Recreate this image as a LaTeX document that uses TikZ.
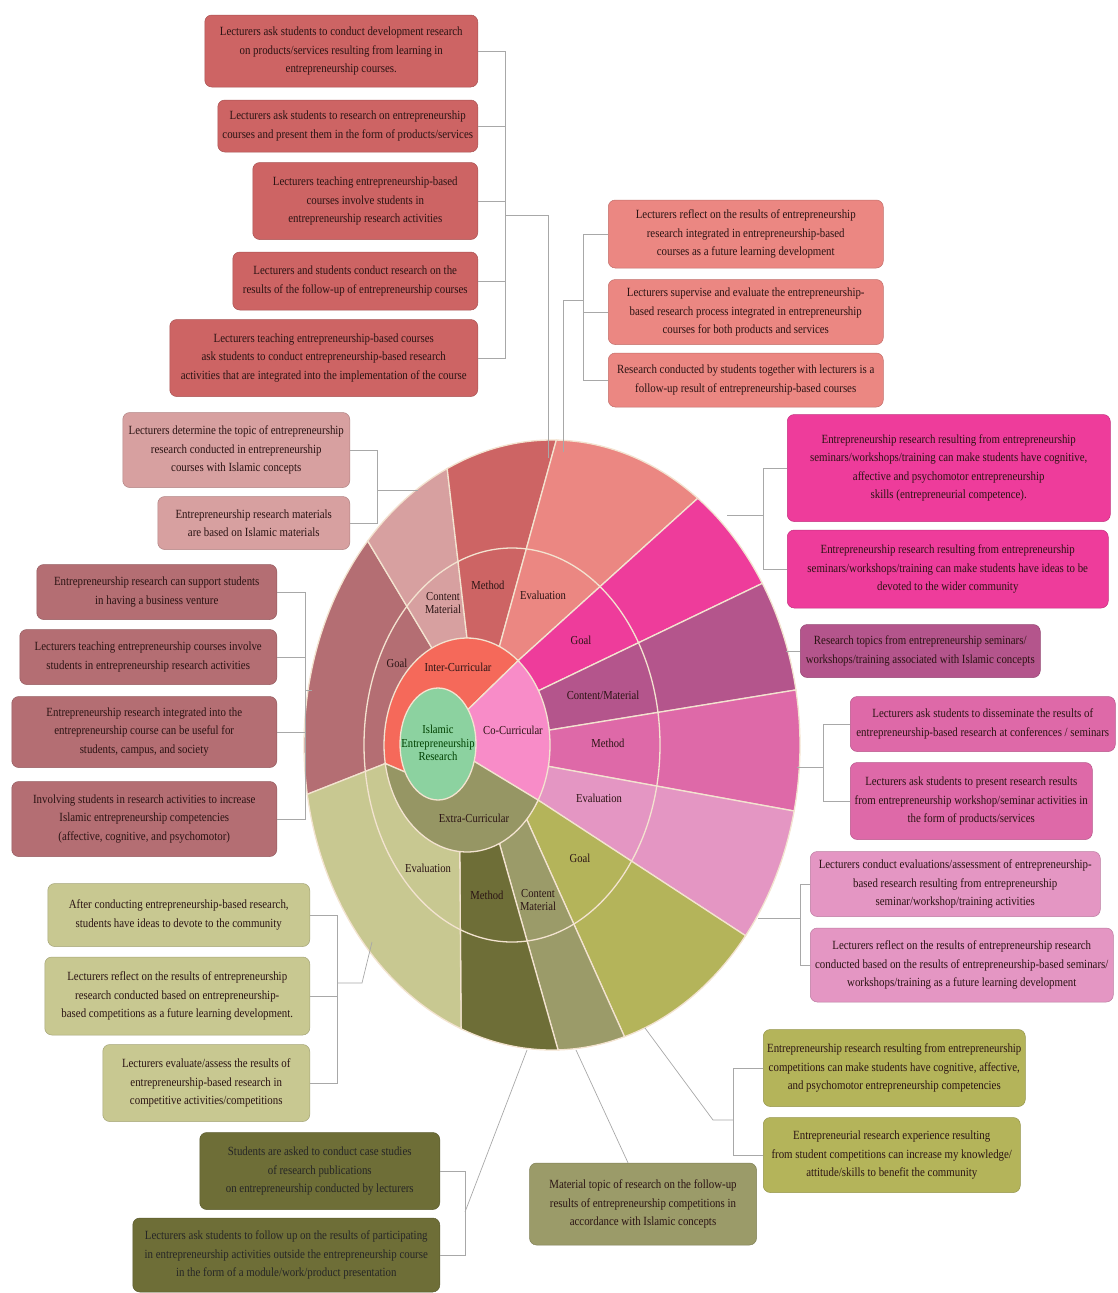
\documentclass[tikz,border=0pt]{standalone}
\usepackage{fontspec}
\setmainfont{Liberation Serif}
\newfontfamily\boxfont[FakeStretch=0.87]{Liberation Serif}

% colours of the rings
\definecolor{inGoal}{HTML}{B46E73}
\definecolor{inCont}{HTML}{D7A0A0}
\definecolor{inMeth}{HTML}{CD6464}
\definecolor{inEval}{HTML}{EB8782}
\definecolor{inCore}{HTML}{F5695A}
\definecolor{coGoal}{HTML}{EE3C9B}
\definecolor{coCont}{HTML}{B4558C}
\definecolor{coMeth}{HTML}{DE69A8}
\definecolor{coEval}{HTML}{E496C3}
\definecolor{coCore}{HTML}{F88CC8}
\definecolor{exGoal}{HTML}{B4B45A}
\definecolor{exCont}{HTML}{9B9B69}
\definecolor{exMeth}{HTML}{6E6E37}
\definecolor{exEval}{HTML}{C8C891}
\definecolor{exCore}{HTML}{969664}
\definecolor{hubGreen}{HTML}{8CD2A0}
\definecolor{sepCol}{HTML}{F3E3D0}
\definecolor{lineGray}{HTML}{A8A8A8}
\definecolor{txtDark}{HTML}{2B1414}

\tikzset{
  infobox/.style={rounded corners=7pt, align=center, inner sep=3pt,
    fill=#1, draw=#1!82!black, line width=0.5pt, text=txtDark,
    font=\boxfont\fontsize{12.5}{18.5}\selectfont},
  wlabel/.style={align=center, inner sep=1pt, text=txtDark,
    font=\boxfont\fontsize{12.2}{13.5}\selectfont},
  conn/.style={draw=lineGray, line width=0.7pt},
  sep/.style={draw=sepCol, line width=1.3pt},
}

% outer ring part: colour, from/to angle on the inner ring, from/to angle on the rim
\newcommand{\outerwedge}[5]{%
  \filldraw[sep, fill=#1] ({467+83*cos(#2)},{745+107*sin(#2)})
    -- plot[domain=#4:#5, samples=40] ({552+248*cos(\x)},{745+305*sin(\x)})
    -- ({467+83*cos(#3)},{745+107*sin(#3)}) -- cycle;}
% inner ring part: colour, from/to angle on the hub, from/to angle on the inner ring
\newcommand{\innerwedge}[5]{%
  \filldraw[sep, fill=#1] ({438+38*cos(#2)},{744+56*sin(#2)})
    -- plot[domain=#4:#5, samples=40] ({467+83*cos(\x)},{745+107*sin(\x)})
    -- ({438+38*cos(#3)},{744+56*sin(#3)}) -- cycle;}

\begin{document}
\begin{tikzpicture}[x=1pt, y=-1pt]
\useasboundingbox (0,0) rectangle (1118,1293);

% Anello esterno
\outerwedge{inGoal}{170}{245}{170.7}{222}
\outerwedge{inCont}{245}{270}{222}{245}
\outerwedge{inMeth}{270}{293}{245}{271}
\outerwedge{inEval}{293}{308}{271}{306}
\outerwedge{coGoal}{-52}{-30.5}{-54}{-32}
\outerwedge{coCont}{-30.5}{-8}{-32}{-10.4}
\outerwedge{coMeth}{-8}{11.5}{-10.4}{12.5}
\outerwedge{coEval}{11.5}{31}{12.5}{38.7}
\outerwedge{exGoal}{31}{44}{38.7}{73}
\outerwedge{exCont}{44}{67}{73}{88.6}
\outerwedge{exMeth}{67}{95}{88.6}{111.5}
\outerwedge{exEval}{95}{170}{111.5}{170.7}
\draw[sep] (512,745) ellipse (148 and 197);

% Anello interno
\innerwedge{inCore}{150}{322}{170}{308}
\innerwedge{coCore}{-38}{18}{-52}{31}
\innerwedge{exCore}{18}{150}{31}{170}
\filldraw[sep, fill=hubGreen] (438,744) ellipse (38 and 56);

% Etichette della ruota
\node[wlabel, text=green!25!black] (hub) at (438,743) {Islamic\\Entrepreneurship\\Research};
\node[wlabel] (inter) at (458,667) {Inter-Curricular};
\node[wlabel] (co) at (513,730) {Co-Curricular};
\node[wlabel] (extra) at (474,818) {Extra-Curricular};
\node[wlabel] (lInGoal) at (397,663) {Goal};
\node[wlabel] (lInCont) at (443,603) {Content\\Material};
\node[wlabel] (lInMeth) at (488,585) {Method};
\node[wlabel] (lInEval) at (543,595) {Evaluation};
\node[wlabel] (lCoGoal) at (581,640) {Goal};
\node[wlabel] (lCoCont) at (603,695) {Content/Material};
\node[wlabel] (lCoMeth) at (608,743) {Method};
\node[wlabel] (lCoEval) at (599,798) {Evaluation};
\node[wlabel] (lExGoal) at (580,858) {Goal};
\node[wlabel] (lExCont) at (538,900) {Content\\Material};
\node[wlabel] (lExMeth) at (487,895) {Method};
\node[wlabel] (lExEval) at (428,868) {Evaluation};

% Inter-Curricular: Method
\node[infobox=inMeth, anchor=east, minimum width=273pt, minimum height=72pt] (im1) at (478,51)
  {Lecturers ask students to conduct development research\\on products/services resulting from learning in\\entrepreneurship courses.};
\node[infobox=inMeth, anchor=east, minimum width=260pt, minimum height=52pt] (im2) at (478,126)
  {Lecturers ask students to research on entrepreneurship\\courses and present them in the form of products/services};
\node[infobox=inMeth, anchor=east, minimum width=225pt, minimum height=77pt] (im3) at (478,201)
  {Lecturers teaching entrepreneurship-based\\courses involve students in\\entrepreneurship research activities};
\node[infobox=inMeth, anchor=east, minimum width=245pt, minimum height=58pt] (im4) at (478,281)
  {Lecturers and students conduct research on the\\results of the follow-up of entrepreneurship courses};
\node[infobox=inMeth, anchor=east, minimum width=308pt, minimum height=77pt] (im5) at (478,358)
  {Lecturers teaching entrepreneurship-based courses\\ask students to conduct entrepreneurship-based research\\activities that are integrated into the implementation of the course};

% Inter-Curricular: Evaluation
\node[infobox=inEval, anchor=west, minimum width=275pt, minimum height=68pt] (ie1) at (608,234)
  {Lecturers reflect on the results of entrepreneurship\\research integrated in entrepreneurship-based\\courses as a future learning development};
\node[infobox=inEval, anchor=west, minimum width=275pt, minimum height=65pt] (ie2) at (608,312)
  {Lecturers supervise and evaluate the entrepreneurship-\\based research process integrated in entrepreneurship\\courses for both products and services};
\node[infobox=inEval, anchor=west, minimum width=275pt, minimum height=54pt] (ie3) at (608,380)
  {Research conducted by students together with lecturers is a\\follow-up result of entrepreneurship-based courses};

% Inter-Curricular: Content Material
\node[infobox=inCont, anchor=east, minimum width=227pt, minimum height=75pt] (ic1) at (350,450)
  {Lecturers determine the topic of entrepreneurship\\research conducted in entrepreneurship\\courses with Islamic concepts};
\node[infobox=inCont, anchor=east, minimum width=192pt, minimum height=53pt] (ic2) at (350,523)
  {Entrepreneurship research materials\\are based on Islamic materials};

% Inter-Curricular: Goal
\node[infobox=inGoal, anchor=east, minimum width=240pt, minimum height=55pt] (ig1) at (277,592)
  {Entrepreneurship research can support students\\in having a business venture};
\node[infobox=inGoal, anchor=east, minimum width=257pt, minimum height=55pt] (ig2) at (277,657)
  {Lecturers teaching entrepreneurship courses involve\\students in entrepreneurship research activities};
\node[infobox=inGoal, anchor=east, minimum width=265pt, minimum height=71pt] (ig3) at (277,732)
  {Entrepreneurship research integrated into the\\entrepreneurship course can be useful for\\students, campus, and society};
\node[infobox=inGoal, anchor=east, minimum width=265pt, minimum height=75pt] (ig4) at (277,819)
  {Involving students in research activities to increase\\Islamic entrepreneurship competencies\\(affective, cognitive, and psychomotor)};

% Co-Curricular: Goal
\node[infobox=coGoal, anchor=west, minimum width=323pt, minimum height=107pt] (cg1) at (787,468)
  {Entrepreneurship research resulting from entrepreneurship\\seminars/workshops/training can make students have cognitive,\\affective and psychomotor entrepreneurship\\skills (entrepreneurial competence).};
\node[infobox=coGoal, anchor=west, minimum width=321pt, minimum height=78pt] (cg2) at (787,569)
  {Entrepreneurship research resulting from entrepreneurship\\seminars/workshops/training can make students have ideas to be\\devoted to the wider community};

% Co-Curricular: Content Material
\node[infobox=coCont, anchor=west, minimum width=240pt, minimum height=53pt] (cc1) at (800,651)
  {Research topics from entrepreneurship seminars/\\workshops/training associated with Islamic concepts};

% Co-Curricular: Method
\node[infobox=coMeth, anchor=west, minimum width=265pt, minimum height=55pt] (cm1) at (850,724)
  {Lecturers ask students to disseminate the results of\\entrepreneurship-based research at conferences / seminars};
\node[infobox=coMeth, anchor=west, minimum width=242pt, minimum height=77pt] (cm2) at (850,801)
  {Lecturers ask students to present research results\\from entrepreneurship workshop/seminar activities in\\the form of products/services};

% Co-Curricular: Evaluation
\node[infobox=coEval, anchor=west, minimum width=290pt, minimum height=65pt] (ce1) at (810,884)
  {Lecturers conduct evaluations/assessment of entrepreneurship-\\based research resulting from entrepreneurship\\seminar/workshop/training activities};
\node[infobox=coEval, anchor=west, minimum width=303pt, minimum height=74pt] (ce2) at (810,965)
  {Lecturers reflect on the results of entrepreneurship research\\conducted based on the results of entrepreneurship-based seminars/\\workshops/training as a future learning development};

% Extra-Curricular: Goal
\node[infobox=exGoal, anchor=west, minimum width=262pt, minimum height=77pt] (xg1) at (763,1068)
  {Entrepreneurship research resulting from entrepreneurship\\competitions can make students have cognitive, affective,\\and psychomotor entrepreneurship competencies};
\node[infobox=exGoal, anchor=west, minimum width=257pt, minimum height=75pt] (xg2) at (763,1155)
  {Entrepreneurial research experience resulting\\from student competitions can increase my knowledge/\\attitude/skills to benefit the community};

% Extra-Curricular: Content Material
\node[infobox=exCont, minimum width=227pt, minimum height=82pt] (xc1) at (643,1204)
  {Material topic of research on the follow-up\\results of entrepreneurship competitions in\\accordance with Islamic concepts};

% Extra-Curricular: Method
\node[infobox=exMeth, anchor=east, minimum width=240pt, minimum height=77pt, text=black!85] (xm1) at (440,1171)
  {Students are asked to conduct case studies\\of research publications\\on entrepreneurship conducted by lecturers};
\node[infobox=exMeth, anchor=east, minimum width=307pt, minimum height=74pt, text=black!85] (xm2) at (440,1255)
  {Lecturers ask students to follow up on the results of participating\\in entrepreneurship activities outside the entrepreneurship course\\in the form of a module/work/product presentation};

% Extra-Curricular: Evaluation
\node[infobox=exEval, anchor=east, minimum width=262pt, minimum height=63pt] (xe1) at (310,915)
  {After conducting entrepreneurship-based research,\\students have ideas to devote to the community};
\node[infobox=exEval, anchor=east, minimum width=265pt, minimum height=78pt] (xe2) at (310,996)
  {Lecturers reflect on the results of entrepreneurship\\research conducted based on entrepreneurship-\\based competitions as a future learning development.};
\node[infobox=exEval, anchor=east, minimum width=207pt, minimum height=77pt] (xe3) at (310,1083)
  {Lecturers evaluate/assess the results of\\entrepreneurship-based research in\\competitive activities/competitions};

% Punti di raccordo
\coordinate (imJ) at (505,215);  \coordinate (imK) at (548,215);  \coordinate (imS) at (548,458);
\coordinate (ieJ) at (583,300);  \coordinate (ieK) at (563,300);  \coordinate (ieS) at (563,452);
\coordinate (icJ) at (377,490);  \coordinate (icS) at (418,490);
\coordinate (igJ) at (305,690);  \coordinate (igS) at (312,690);
\coordinate (cgJ) at (763,515);  \coordinate (cgS) at (727,515);
\coordinate (ccS) at (786,651);
\coordinate (cmJ) at (823,767);  \coordinate (cmS) at (797,767);
\coordinate (ceJ) at (800,918);  \coordinate (ceS) at (758,918);
\coordinate (xgJ) at (733,1120); \coordinate (xgK) at (713,1120); \coordinate (xgS) at (645,1028);
\coordinate (xcS) at (576,1050);
\coordinate (xmJ) at (465,1212); \coordinate (xmS) at (527,1050);
\coordinate (xeJ) at (337,983);  \coordinate (xeK) at (362,983);  \coordinate (xeS) at (372,942);

% Connettori
\foreach \b in {im1,im2,im3,im4,im5} \draw[conn] (\b.east) -| (imJ);
\draw[conn] (imJ) -- (imK) -- (imS);
\foreach \b in {ie1,ie2,ie3} \draw[conn] (\b.west) -| (ieJ);
\draw[conn] (ieJ) -- (ieK) -- (ieS);
\foreach \b in {ic1,ic2} \draw[conn] (\b.east) -| (icJ);
\draw[conn] (icJ) -- (icS);
\foreach \b in {ig1,ig2,ig3,ig4} \draw[conn] (\b.east) -| (igJ);
\draw[conn] (igJ) -- (igS);
\foreach \b in {cg1,cg2} \draw[conn] (\b.west) -| (cgJ);
\draw[conn] (cgJ) -- (cgS);
\draw[conn] (cc1.west) -- (ccS);
\foreach \b in {cm1,cm2} \draw[conn] (\b.west) -| (cmJ);
\draw[conn] (cmJ) -- (cmS);
\foreach \b in {ce1,ce2} \draw[conn] (\b.west) -| (ceJ);
\draw[conn] (ceJ) -- (ceS);
\foreach \b in {xg1,xg2} \draw[conn] (\b.west) -| (xgJ);
\draw[conn] (xgJ) -- (xgK) -- (xgS);
\draw[conn] (xc1.110) -- (xcS);
\foreach \b in {xm1,xm2} \draw[conn] (\b.east) -| (xmJ);
\draw[conn] (xmJ) -- (xmS);
\foreach \b in {xe1,xe2,xe3} \draw[conn] (\b.east) -| (xeJ);
\draw[conn] (xeJ) -- (xeK) -- (xeS);

\end{tikzpicture}
\end{document}
